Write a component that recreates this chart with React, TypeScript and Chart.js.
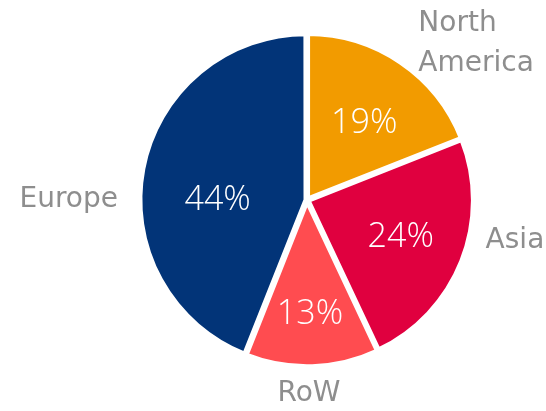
import React, { useEffect, useRef } from "react";
import { Chart, registerables } from "chart.js";

Chart.register(...registerables);

const regions = ["North America", "Asia", "RoW", "Europe"];
const shares = [19, 24, 13, 44];
const percentLabels = ["19%", "24%", "13%", "44%"];
const outsideLabels = [["North", "America"], ["Asia"], ["RoW"], ["Europe"]];
const colors = ["#F29B00", "#E0003F", "#FF4C50", "#023478"];

// label placement: angle (deg, clockwise from top) and radius as fraction of the pie radius
const innerPlacement = [
  { a: 36.6, r: 0.58 },
  { a: 111.8, r: 0.61 },
  { a: 178.5, r: 0.69 },
  { a: 270, r: 0.54 },
];
const outerPlacement = [
  { a: 47.3, r: 1.39 },
  { a: 101, r: 1.28 },
  { a: 179.4, r: 1.17 },
  { a: 270, r: 1.44 },
];

const labelPlugin = {
  id: "pieLabels",
  afterDatasetsDraw(chart: any) {
    const meta = chart.getDatasetMeta(0);
    if (!meta.data.length) return;
    const arc0 = meta.data[0];
    const cx = chart.chartArea.left + chart.chartArea.width / 2;
    const cy = chart.chartArea.top + chart.chartArea.height / 2;
    const R = arc0.outerRadius;
    const ctx = chart.ctx;
    ctx.save();
    ctx.textAlign = "center";
    ctx.textBaseline = "middle";
    meta.data.forEach((_arc: any, i: number) => {
      const ip = innerPlacement[i];
      const ia = (ip.a * Math.PI) / 180;
      ctx.fillStyle = "#FFFFFF";
      ctx.font = "300 34px 'Open Sans', 'DejaVu Sans', sans-serif";
      ctx.fillText(percentLabels[i], cx + Math.sin(ia) * R * ip.r, cy - Math.cos(ia) * R * ip.r);

      const op = outerPlacement[i];
      const oa = (op.a * Math.PI) / 180;
      const lines = outsideLabels[i];
      const lh = 40;
      const ox = cx + Math.sin(oa) * R * op.r;
      const oy = cy - Math.cos(oa) * R * op.r;
      ctx.fillStyle = "#8E8E8E";
      ctx.font = "28px 'DejaVu Sans', sans-serif";
      lines.forEach((ln: string, k: number) => {
        ctx.textAlign = lines.length > 1 ? "left" : "center";
        const w = lines.length > 1 ? Math.max(...lines.map((l: string) => ctx.measureText(l).width)) : 0;
        const x = lines.length > 1 ? ox - w / 2 : ox;
        ctx.fillText(ln, x, oy + (k - (lines.length - 1) / 2) * lh);
      });
      ctx.textAlign = "center";
    });
    ctx.restore();
  },
};

export default function App() {
  const ref = useRef<HTMLCanvasElement>(null);
  useEffect(() => {
    if (!ref.current) return;
    const chart = new Chart(ref.current, {
      type: "pie",
      data: {
        labels: regions,
        datasets: [
          {
            data: shares,
            backgroundColor: colors,
            borderColor: "#FFFFFF",
            borderWidth: 5,
            offset: 4,
            hoverOffset: 0,
          },
        ],
      },
      options: {
        animation: false,
        responsive: true,
        maintainAspectRatio: false,
        events: [],
        layout: { padding: { left: 137, right: 69, top: 30, bottom: 41 } },
        plugins: {
          legend: { display: false },
          tooltip: { enabled: false },
        },
      },
      plugins: [labelPlugin],
    });
    return () => chart.destroy();
  }, []);
  return (
    <div style={{ position: "fixed", left: 0, top: 0, width: 546, height: 411, background: "#FFFFFF" }}>
      <canvas ref={ref} />
    </div>
  );
}
